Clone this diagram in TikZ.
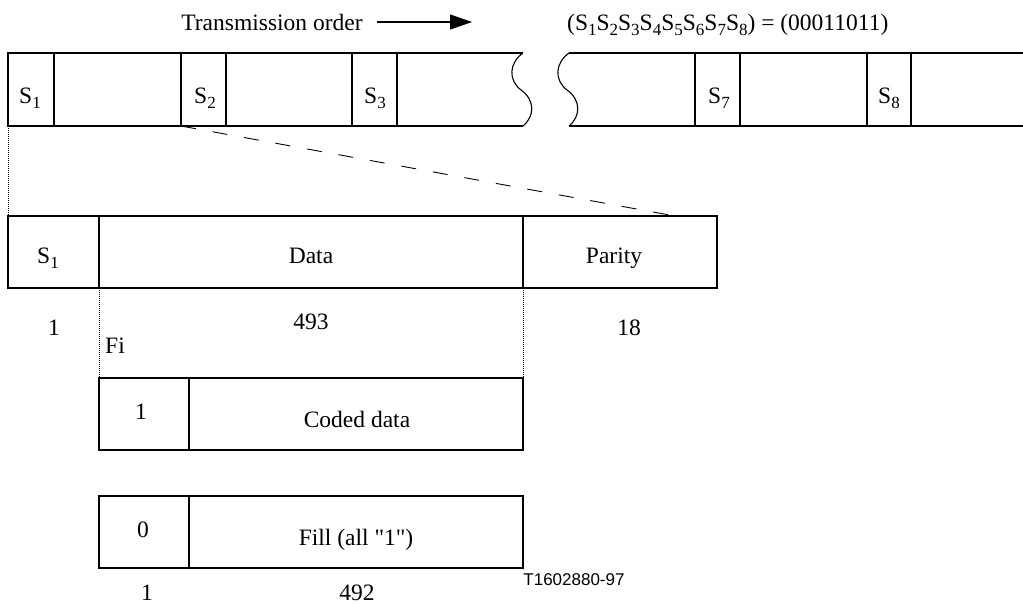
\documentclass[tikz,border=0pt]{standalone}
\usepackage{fontspec}
\setmainfont{Liberation Serif}
\newfontfamily\qfont{Liberation Serif}
\newfontfamily\arialf{Liberation Sans}
\usetikzlibrary{arrows.meta}
\newcommand\sbs[1]{\raisebox{-5.5pt}{\fontsize{17pt}{17pt}\selectfont #1}}
\begin{document}
\begin{tikzpicture}[x=1pt,y=-1pt,
  ln/.style={line width=1.1pt},
  dotln/.style={line width=0.6pt, dash pattern=on 1pt off 1pt},
  dashln/.style={line width=0.9pt, dash pattern=on 15pt off 17pt},
  lbl/.style={font=\fontsize{23.5pt}{28pt}\selectfont, inner sep=0pt, anchor=base},
  tag/.style={font=\arialf\fontsize{17pt}{20pt}\selectfont, inner sep=0pt}]
\useasboundingbox (0,0) rectangle (1023,605);

% ---- top line of text
\node[lbl] (tord) at (272,30) {Transmission order};
\coordinate (arA) at (377,22);
\coordinate (arB) at (472,22);
\draw[line width=1.1pt, -{Triangle[length=22pt,width=15pt]}] (arA) -- (arB);
\node[lbl, anchor=base west] (seq) at (567,30) {(S\sbs{1}S\sbs{2}S\sbs{3}S\sbs{4}S\sbs{5}S\sbs{6}S\sbs{7}S\sbs{8}) = (00011011)};

% ---- transmission strip, left part
\coordinate (Ltl) at (8,53);
\coordinate (Lbl) at (8,126);
\coordinate (Ltr) at (523,53);
\coordinate (Lbr) at (523,126);
\draw[ln] (Ltr) -- (Ltl) -- (Lbl) -- (Lbr);
\draw[ln] (Ltr) .. controls (509,63) and (508,80) .. (521,90)
                .. controls (535,100) and (535,116) .. (Lbr);
\foreach \x/\n in {54/a,181/b,226/c,352/d,397/e}
  \draw[ln] (\x,53) coordinate (t\n) -- (\x,126) coordinate (b\n);
% right part
\coordinate (Rtl) at (569,53);
\coordinate (Rbl) at (569,126);
\draw[ln] (Rtl) .. controls (555,63) and (554,80) .. (567,90)
                .. controls (581,100) and (581,116) .. (Rbl);
\draw[ln] (Rtl) -- (1023,53);
\draw[ln] (Rbl) -- (1023,126);
\foreach \x/\n in {695/f,740/g,867/h,911/i}
  \draw[ln] (\x,53) coordinate (t\n) -- (\x,126) coordinate (b\n);

\node[lbl] (s1) at (30,103) {S\sbs{1}};
\node[lbl] (s2) at (205,103) {S\sbs{2}};
\node[lbl] (s3) at (375,103) {S\sbs{3}};
\node[lbl] (s7) at (719,103) {S\sbs{7}};
\node[lbl] (s8) at (889,103) {S\sbs{8}};

% ---- frame
\coordinate (Ftl) at (8,216);
\coordinate (Fbr) at (717,288);
\draw[ln] (Ftl) rectangle (Fbr);
\draw[ln] (99,216) coordinate (Fd1t) -- (99,288) coordinate (Fd1b);
\draw[ln] (523,216) coordinate (Fd2t) -- (523,288) coordinate (Fd2b);
\coordinate (Pt) at (675,216);
\node[lbl] (fs1) at (48,263) {S\sbs{1}};
\node[lbl] (data) at (311,263) {Data};
\node[lbl] (par) at (614,263) {Parity};

\node[lbl] (n1) at (54,335) {1};
\node[lbl] (n493) at (311,329) {493};
\node[lbl] (n18) at (629,335) {18};
\node[lbl, anchor=base west] (fi) at (105,353) {Fi};

% connectors
\draw[dotln] (Lbl) -- (Ftl);
\draw[dashln] (bb) -- (Pt);

% ---- coded data box
\coordinate (Ctl) at (99,378);
\coordinate (Cbr) at (523,450);
\draw[ln] (Ctl) rectangle (Cbr);
\draw[ln] (189,378) -- (189,450);
\coordinate (Ctr) at (523,378);
\draw[dotln] (Fd1b) -- (Ctl);
\draw[dotln] (Fd2b) -- (Ctr);
\node[lbl] (c1) at (141,419) {1};
\node[lbl] (cd) at (357,427) {Coded data};

% ---- fill box
\coordinate (Gtl) at (99,496);
\coordinate (Gbr) at (523,568);
\draw[ln] (Gtl) rectangle (Gbr);
\draw[ln] (189,496) -- (189,568);
\node[lbl] (g0) at (143,537) {0};
\node[lbl] (gf) at (356,545) {Fill (all {\qfont"}1{\qfont"})};

\node[lbl] (b1) at (147,600) {1};
\node[lbl] (b492) at (357,600) {492};

\node[tag] (ref) at (574,580) {T1602880-97};
\end{tikzpicture}
\end{document}
